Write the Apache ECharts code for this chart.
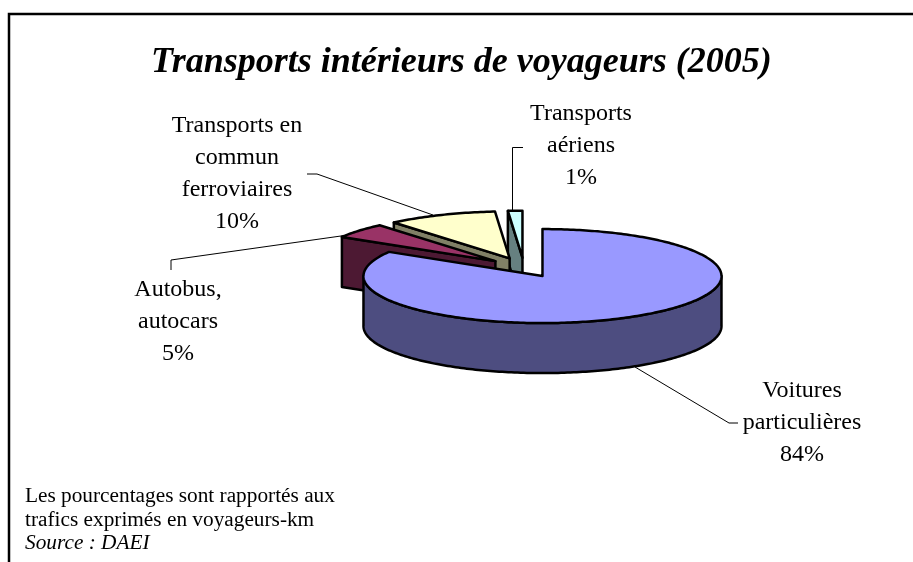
<!DOCTYPE html>
<html lang="fr">
<head>
<meta charset="utf-8">
<title>Transports intérieurs de voyageurs (2005)</title>
<style>
  html, body { margin: 0; padding: 0; background: #fff; }
  #chart { width: 913px; height: 562px; }
</style>
<script src="https://cdn.jsdelivr.net/npm/echarts@6/dist/echarts.min.js"></script>
</head>
<body>
<div id="chart"></div>
<script>
// values, clockwise from 12 o'clock
const categories = ['Voitures particulières', 'Autobus, autocars', 'Transports en commun ferroviaires', 'Transports aériens'];
const values = [83.6, 5.2, 9.9, 1.3];
const labelLines = [['Voitures', 'particulières'], ['Autobus,', 'autocars'], ['Transports en', 'commun', 'ferroviaires'], ['Transports', 'aériens']];
const topColors = ['#9999FF', '#993366', '#FFFFCC', '#CCFFFF'];
const wallColors = ['#4D4D80', '#4D1933', '#808066', '#668080'];

// pie layout, in pixels
const cx = 524, cy = 267.5, rx = 179, ry = 47, depth = 50, explode = 37.5;
const labelPos = [[802, 391], [178, 290], [237, 126], [581, 114]];
const leaders = [
  [[635, 367], [729, 423], [738, 423]],
  [[348, 235], [171, 260], [171, 270]],
  [[433, 215], [317, 174], [307, 174]],
  [[512.5, 212], [512.5, 147.5], [523, 147.5]]
];
const LABEL_FONT = '24px "Liberation Serif"';

const total = values.reduce((a, b) => a + b, 0);
const rad = d => d * Math.PI / 180;

function rimPoint(apex, deg, drop) {
  return [apex[0] + rx * Math.sin(rad(deg)), apex[1] - ry * Math.cos(rad(deg)) + (drop || 0)];
}

function arcPoints(apex, from, to, drop) {
  const pts = [];
  for (let d = from; d < to; d += 1) pts.push(rimPoint(apex, d, drop));
  pts.push(rimPoint(apex, to, drop));
  return pts;
}

function poly(points, fill, z2) {
  return {
    type: 'polygon',
    z2: z2,
    shape: { points: points },
    style: { fill: fill, stroke: '#000', lineWidth: 2.5, lineJoin: 'round' }
  };
}

function cutFace(apex, deg, fill, z2) {
  const rim = rimPoint(apex, deg);
  return poly([apex, rim, [rim[0], rim[1] + depth], [apex[0], apex[1] + depth]], fill, z2);
}

function renderSlice(params, api) {
  const i = params.dataIndex;
  const share = api.value(0) / total * 360;
  let start = 0;
  for (let k = 0; k < i; k++) start += values[k] / total * 360;
  const end = start + share;
  const mid = (start + end) / 2;
  const apex = [cx + explode * Math.sin(rad(mid)), cy - explode * (ry / rx) * Math.cos(rad(mid))];
  // later slices sit behind the earlier ones
  const base = (values.length - i) * 10;
  const children = [];

  if (Math.sin(rad(start)) < -1e-6) children.push(cutFace(apex, start, wallColors[i], base));
  if (Math.sin(rad(end)) > 1e-6) children.push(cutFace(apex, end, wallColors[i], base));
  const wallFrom = Math.max(start, 90), wallTo = Math.min(end, 270);
  if (wallFrom < wallTo) {
    const upper = arcPoints(apex, wallFrom, wallTo);
    const lower = arcPoints(apex, wallFrom, wallTo, depth).reverse();
    children.push(poly(upper.concat(lower), wallColors[i], base + 1));
  }
  children.push(poly([apex].concat(arcPoints(apex, start, end)), topColors[i], base + 2));

  children.push({
    type: 'polyline',
    z2: 1,
    shape: { points: leaders[i] },
    style: { fill: null, stroke: '#000', lineWidth: 1 }
  });
  children.push({
    type: 'text',
    z2: 100,
    style: {
      text: labelLines[i].concat(Math.round(api.value(0)) + '%').join('\n'),
      x: labelPos[i][0],
      y: labelPos[i][1] - 16,
      align: 'center',
      verticalAlign: 'top',
      lineHeight: 32,
      font: LABEL_FONT,
      fill: '#000'
    }
  });
  return { type: 'group', children: children };
}

const chart = echarts.init(document.getElementById('chart'), null, { renderer: 'canvas' });
chart.setOption({
  animation: false,
  backgroundColor: '#fff',
  title: {
    text: 'Transports intérieurs de voyageurs (2005)',
    left: 146,
    top: 40,
    textStyle: { fontFamily: 'Liberation Serif', fontSize: 36, fontWeight: 'bold', fontStyle: 'italic', color: '#000' }
  },
  graphic: [
    {
      type: 'polyline',
      silent: true,
      shape: { points: [[9, 562], [9, 14], [913, 14]] },
      style: { fill: null, stroke: '#000', lineWidth: 2.5 }
    },
    {
      type: 'text',
      left: 25,
      top: 485,
      silent: true,
      style: { text: 'Les pourcentages sont rapportés aux\ntrafics exprimés en voyageurs-km', font: '21.3px "Liberation Serif"', lineHeight: 23.5, fill: '#000' }
    },
    {
      type: 'text',
      left: 25,
      top: 532,
      silent: true,
      style: { text: 'Source : DAEI', font: 'italic 21.3px "Liberation Serif"', lineHeight: 23.5, fill: '#000' }
    }
  ],
  series: [{
    type: 'custom',
    name: 'Transports intérieurs',
    coordinateSystem: 'none',
    silent: true,
    data: categories.map((name, i) => ({ name: name, value: [values[i]] })),
    renderItem: renderSlice
  }]
});
</script>
</body>
</html>
